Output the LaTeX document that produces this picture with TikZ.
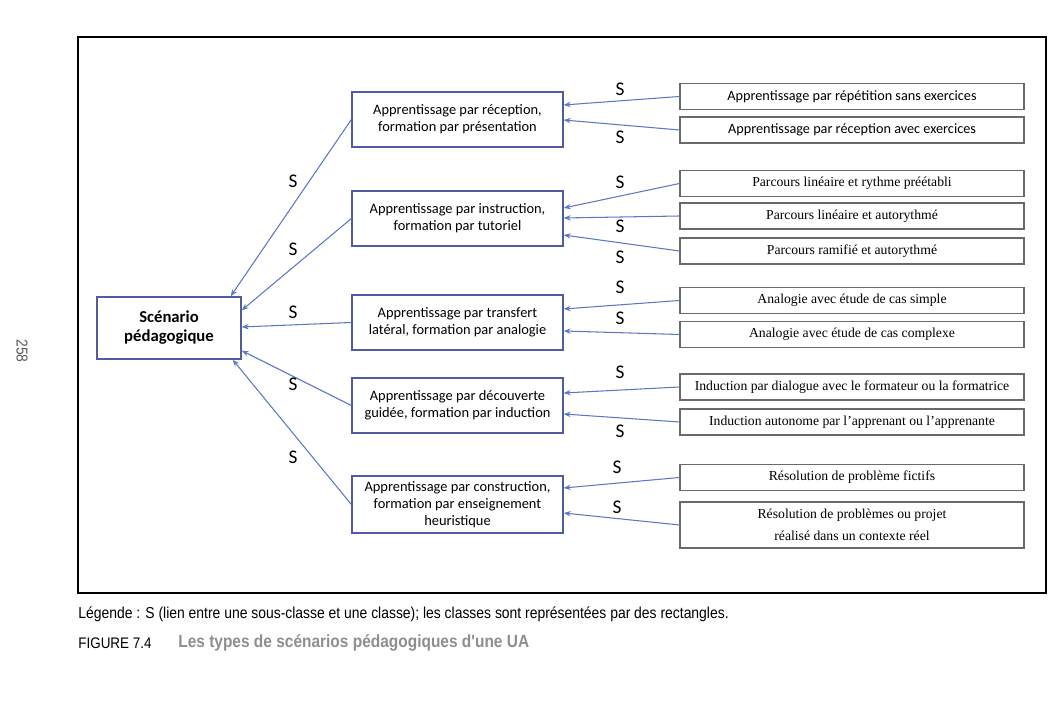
\documentclass[tikz,border=0pt]{standalone}
\usepackage{fontspec}
\setmainfont{Liberation Serif}
\newfontfamily\calib{Carlito}
\newfontfamily\capfont[FakeStretch=0.88]{Liberation Sans}
\usetikzlibrary{arrows.meta, calc}

\definecolor{linkblue}{HTML}{5B78C6}
\definecolor{boxblue}{HTML}{505C9E}
\definecolor{boxgray}{HTML}{6A6A6A}
\definecolor{titlegray}{HTML}{8E8E8E}

\begin{document}
\begin{tikzpicture}[
  x=0.2mm, y=-0.2mm,
  root/.style={draw=boxblue, line width=0.7pt, minimum width=28.8mm, minimum height=12.4mm,
               align=center, inner sep=1pt, font=\calib\bfseries\fontsize{9.5}{10.8}\selectfont},
  classe/.style={draw=boxblue, line width=0.7pt, minimum width=42.2mm, minimum height=11mm,
                 align=center, inner sep=1pt, font=\calib\fontsize{8.2}{9.7}\selectfont},
  sous/.style={draw=boxgray, line width=0.6pt, minimum width=68.8mm, minimum height=5.2mm,
               align=center, inner sep=1pt, font=\fontsize{7.8}{12.5}\selectfont},
  soussans/.style={sous, font=\calib\fontsize{8.1}{9}\selectfont},
  lien/.style={-{Stealth[length=4pt, width=3pt]}, color=linkblue, line width=0.6pt},
  slab/.style={font=\calib\fontsize{11}{12}\selectfont, inner sep=0pt},
  legende/.style={anchor=west, inner sep=0pt, font=\capfont\fontsize{9}{10}\selectfont},
]

\useasboundingbox (0,0) rectangle (1060,716);

% Frame
\draw[line width=1.1pt] (78,37) rectangle (1046,593);

% Page number
\node[rotate=-90, font=\capfont\fontsize{9}{10}\selectfont, text=black!65] (page) at (22,351) {258};

% Root class
\node[root] (scen) at (169,328) {Sc\'enario\\p\'edagogique};

% Classes
\node[classe] (recep)  at (457.5,119.5) {Apprentissage par r\'eception,\\formation par pr\'esentation};
\node[classe] (instr)  at (457.5,218.5) {Apprentissage par instruction,\\formation par tutoriel};
\node[classe] (transf) at (457.5,322.5) {Apprentissage par transfert\\lat\'eral, formation par analogie};
\node[classe] (decouv) at (457.5,405.5) {Apprentissage par d\'ecouverte\\guid\'ee, formation par induction};
\node[classe, minimum height=11.4mm] (constr) at (457.5,504.5)
  {Apprentissage par construction,\\formation par enseignement\\heuristique};

% Sub-classes
\node[soussans] (repet)   at (852,96.5)  {Apprentissage par r\'ep\'etition sans exercices};
\node[soussans] (recex)   at (852,130)   {Apprentissage par r\'eception avec exercices};
\node[sous] (linrythm)    at (852,183.5) {Parcours lin\'eaire et rythme pr\'e\'etabli};
\node[sous] (linauto)     at (852,216)   {Parcours lin\'eaire et autorythm\'e};
\node[sous] (ramauto)     at (852,251)   {Parcours ramifi\'e et autorythm\'e};
\node[sous] (anasimple)   at (852,300.5) {Analogie avec \'etude de cas simple};
\node[sous] (anacomplex)  at (852,334.5) {Analogie avec \'etude de cas complexe};
\node[sous] (inddial)     at (852,387)   {Induction par dialogue avec le formateur ou la formatrice};
\node[sous] (indauto)     at (852,422)   {Induction autonome par l'apprenant ou l'apprenante};
\node[sous] (resfict)     at (852,477.5) {R\'esolution de probl\`eme fictifs};
\node[sous, minimum height=9.2mm] (resreel) at (852,525)
  {R\'esolution de probl\`emes ou projet\\r\'ealis\'e dans un contexte r\'eel};

% Links to the root class
\draw[lien] (recep.west)  -- ($(scen.north east)+(-11,0)$);
\draw[lien] (instr.west)  -- ($(scen.north east)+(0,14)$);
\draw[lien] (transf.west) -- ($(scen.east)+(0,-1)$);
\draw[lien] (decouv.west) -- ($(scen.south east)+(0,-9)$);
\draw[lien] (constr.west) -- ($(scen.south east)+(-9,0)$);

% Links to the classes
\draw[lien] (repet.west)      -- ($(recep.east)+(0,-14.5)$);
\draw[lien] (recex.west)      -- ($(recep.east)+(0,0.5)$);
\draw[lien] (linrythm.west)   -- ($(instr.east)+(0,-10.5)$);
\draw[lien] (linauto.west)    -- ($(instr.east)+(0,-0.5)$);
\draw[lien] (ramauto.west)    -- ($(instr.east)+(0,16.5)$);
\draw[lien] (anasimple.west)  -- ($(transf.east)+(0,-13.5)$);
\draw[lien] (anacomplex.west) -- ($(transf.east)+(0,8.5)$);
\draw[lien] (inddial.west)    -- ($(decouv.east)+(0,-12.5)$);
\draw[lien] (indauto.west)    -- ($(decouv.east)+(0,8.5)$);
\draw[lien] (resfict.west)    -- ($(constr.east)+(0,-16.5)$);
\draw[lien] (resreel.west)    -- ($(constr.east)+(0,8.5)$);

% S labels
\node[slab] (s1)  at (293,181) {S};
\node[slab] (s2)  at (293,249) {S};
\node[slab] (s3)  at (293,312) {S};
\node[slab] (s4)  at (293,384) {S};
\node[slab] (s5)  at (293,457) {S};
\node[slab] (s6)  at (620,89)  {S};
\node[slab] (s7)  at (620,137) {S};
\node[slab] (s8)  at (620,182) {S};
\node[slab] (s9)  at (620,226) {S};
\node[slab] (s10) at (620,257) {S};
\node[slab] (s11) at (620,287) {S};
\node[slab] (s12) at (620,318) {S};
\node[slab] (s13) at (620,372) {S};
\node[slab] (s14) at (620,431) {S};
\node[slab] (s15) at (617,467) {S};
\node[slab] (s16) at (617,507) {S};

% Caption
\node[legende] (leg) at (78,614)
  {L\'egende : S (lien entre une sous-classe et une classe); les classes sont repr\'esent\'ees par des rectangles.};
\node[legende, font=\capfont\fontsize{8.7}{10}\selectfont] (fig) at (78,643) {FIGURE 7.4};
\node[legende, font=\capfont\bfseries\fontsize{10}{11}\selectfont, text=titlegray] (titre) at (178,643)
  {Les types de sc\'enarios p\'edagogiques d'une UA};

\end{tikzpicture}
\end{document}
